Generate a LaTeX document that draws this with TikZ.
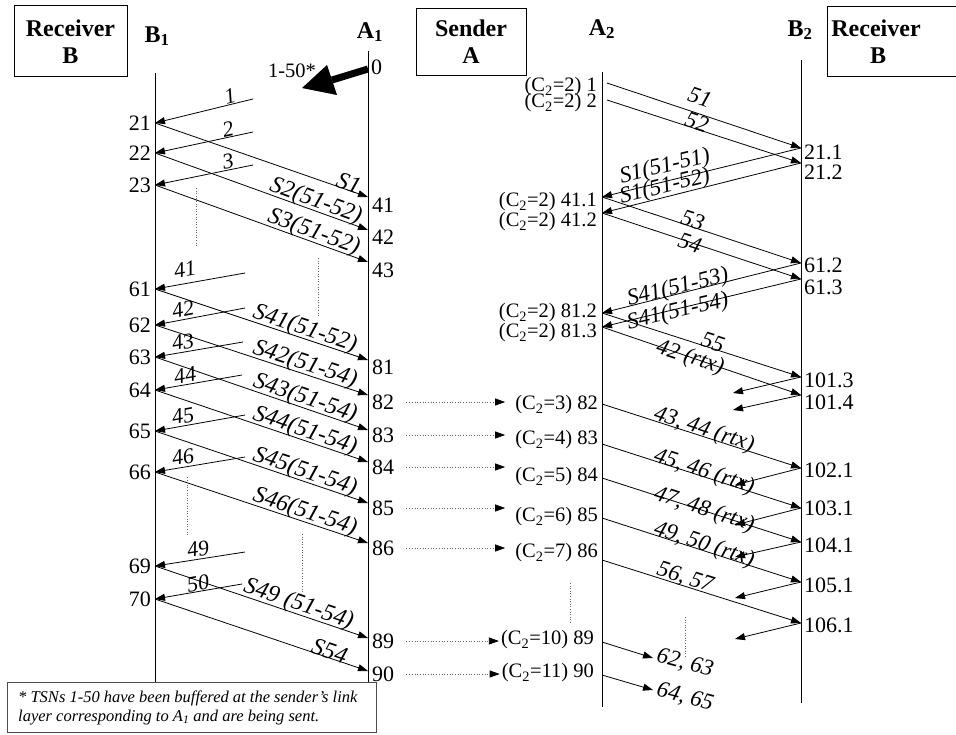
\documentclass[tikz,border=0pt]{standalone}
\usepackage{fontspec}
\setmainfont{Liberation Serif}
\usetikzlibrary{arrows.meta}
\newcommand{\Ct}[1]{(C\textsubscript{2}=#1)}
\tikzset{
  arr/.style={line width=0.8pt, -{Triangle[length=10pt,width=7pt]}},
  num/.style={font=\fontsize{22}{24}\selectfont, inner sep=0pt},
  clbl/.style={font=\fontsize{20.5}{22}\selectfont, inner sep=0pt},
  slbl/.style={font=\fontsize{24}{26}\selectfont\itshape, inner sep=0pt},
  albl/.style={font=\fontsize{23}{25}\selectfont\itshape, inner sep=0pt},
  klbl/.style={font=\fontsize{22}{24}\selectfont\itshape, inner sep=0pt},
  hdr/.style={font=\fontsize{24}{26}\selectfont\bfseries, inner sep=0pt, anchor=base},
  life/.style={line width=0.9pt},
  vdot/.style={dotted, black!60, line width=0.6pt},
  hdot/.style={dotted, black!60, line width=0.7pt, -{Triangle[length=10pt,width=7pt,black]}},
  hbox/.style={draw, line width=0.8pt, inner sep=0pt},
}
\begin{document}
\begin{tikzpicture}[x=1pt,y=-1pt]
\useasboundingbox (0,0) rectangle (956,734);

% header boxes
\node[hbox, minimum width=113pt, minimum height=71pt] (recvL) at (70.5,40.5) {};
\node[hdr] at (70.5,36) {Receiver};
\node[hdr] at (70.5,63) {B};
\node[hbox, minimum width=110pt, minimum height=67pt] (send) at (471,41.5) {};
\node[hdr] at (471,36.5) {Sender};
\node[hdr] at (471,63) {A};
\node[hbox, minimum width=150pt, minimum height=70pt] (recvR) at (902,41) {};
\node[hdr] at (876,36) {Receiver};
\node[hdr] at (878,63) {B};

% lifeline headers
\node[hdr] (hB1) at (157,42) {B\textsubscript{1}};
\node[hdr] (hA1) at (370,38) {A\textsubscript{1}};
\node[hdr] (hA2) at (602,35) {A\textsubscript{2}};
\node[hdr] (hB2) at (800,36) {B\textsubscript{2}};

% lifelines
\coordinate (B1t) at (155,73);  \coordinate (B1b) at (155,682);
\coordinate (A1t) at (368,51);  \coordinate (A1b) at (368,682);
\coordinate (A2t) at (602,72);  \coordinate (A2b) at (602,707);
\coordinate (B2t) at (801,60);  \coordinate (B2b) at (801,703);
\draw[life] (B1t) -- (B1b);
\draw[life] (A1t) -- (A1b);
\draw[life] (A2t) -- (A2b);
\draw[life] (B2t) -- (B2b);

% ---------- left part: events ----------
\foreach \n/\y in {21/123,22/153,23/185,61/289,62/325,63/357,64/390,65/431,66/472,69/566,70/599}{
  \coordinate (b\n) at (155,\y);
  \node[num, anchor=east] (lb\n) at (151,\y) {\n};
}
\foreach \n/\y in {41/197,42/230,43/262,81/360,82/395,83/430,84/462,85/503,86/543,89/638,90/671}{
  \coordinate (a\n) at (368,\y);
}
\foreach \n/\y in {41/205,42/237,43/270,81/367,82/402,83/435,84/467,85/508,86/548,89/641,90/674}{
  \node[num, anchor=west] (la\n) at (372,\y) {\n};
}
\coordinate (a0) at (368,69);
\node[num, anchor=west] (la0) at (371,67) {0};

% thick arrow 1-50*
\node[clbl] (l150) at (292,71) {1-50*};
\coordinate (hb) at (332,80);
\coordinate (ht) at (302,88);
\coordinate (hc1) at (327,65);
\coordinate (hc2) at (337,95);
\draw[line width=7pt] (a0) -- (hb);
\fill (ht) -- (hc1) -- (hc2) -- cycle;

% short arrows towards B1
\foreach \n/\x/\y in {1/253/99,2/253/132,3/253/165,41/245/273,42/245/308,43/243/342,44/242/375,45/245/415,46/245/457,49/245/552,50/242/584}{
  \coordinate (s\n) at (\x,\y);
}
\draw[arr] (s1) -- (b21);   \node[klbl, rotate=14]   at (230,96)  {1};
\draw[arr] (s2) -- (b22);   \node[klbl, rotate=12.3] at (228,129) {2};
\draw[arr] (s3) -- (b23);   \node[klbl, rotate=11.8] at (228,161) {3};
\draw[arr] (s41) -- (b61);  \node[klbl, rotate=9.7]  at (185,269) {41};
\draw[arr] (s42) -- (b62);  \node[klbl, rotate=10.9] at (183,309) {42};
\draw[arr] (s43) -- (b63);  \node[klbl, rotate=10]   at (183,342) {43};
\draw[arr] (s44) -- (b64);  \node[klbl, rotate=10.2] at (185,375) {44};
\draw[arr] (s45) -- (b65);  \node[klbl, rotate=10.3] at (183,416) {45};
\draw[arr] (s46) -- (b66);  \node[klbl, rotate=9.7]  at (183,457) {46};
\draw[arr] (s49) -- (b69);  \node[klbl, rotate=9]    at (198,549) {49};
\draw[arr] (s50) -- (b70);  \node[klbl, rotate=10]   at (198,583) {50};

% long arrows B1 -> A1
\draw[arr] (b21) -- node[slbl, sloped, above=-2pt, pos=0.9]  {S1} (a41);
\draw[arr] (b22) -- node[slbl, sloped, above=-2pt, pos=0.74] {S2(51-52)} (a42);
\draw[arr] (b23) -- node[slbl, sloped, above=-2pt, pos=0.73] {S3(51-52)} (a43);
\draw[arr] (b61) -- node[slbl, sloped, above=-2pt, pos=0.69] {S41(51-52)} (a81);
\draw[arr] (b62) -- node[slbl, sloped, above=-2pt, pos=0.69] {S42(51-54)} (a82);
\draw[arr] (b63) -- node[slbl, sloped, above=-2pt, pos=0.69] {S43(51-54)} (a83);
\draw[arr] (b64) -- node[slbl, sloped, above=-2pt, pos=0.69] {S44(51-54)} (a84);
\draw[arr] (b65) -- node[slbl, sloped, above=-2pt, pos=0.69] {S45(51-54)} (a85);
\draw[arr] (b66) -- node[slbl, sloped, above=-2pt, pos=0.69] {S46(51-54)} (a86);
\draw[arr] (b69) -- node[slbl, sloped, above=-2pt, pos=0.66] {S49 (51-54)} (a89);
\draw[arr] (b70) -- node[slbl, sloped, above=-2pt, pos=0.81] {S54} (a90);

% vertical dotted marks
\draw[vdot] (196,188) -- (196,247);
\draw[vdot] (318,258) -- (318,317);
\draw[vdot] (187,477) -- (187,535);
\draw[vdot] (302,534) -- (302,593);
\draw[vdot] (570,583) -- (570,623);
\draw[vdot] (685,617) -- (685,657);

% ---------- right part ----------
\node[clbl, anchor=east] (lc1)   at (597,87)  {\Ct{2} 1};
\node[clbl, anchor=east] (lc2)   at (597,103) {\Ct{2} 2};
\node[clbl, anchor=east] (lc411) at (597,202) {\Ct{2} 41.1};
\node[clbl, anchor=east] (lc412) at (597,222) {\Ct{2} 41.2};
\node[clbl, anchor=east] (lc812) at (597,313) {\Ct{2} 81.2};
\node[clbl, anchor=east] (lc813) at (597,333) {\Ct{2} 81.3};
\node[clbl, anchor=east] (lc82)  at (598,405) {\Ct{3} 82};
\node[clbl, anchor=east] (lc83)  at (598,440) {\Ct{4} 83};
\node[clbl, anchor=east] (lc84)  at (598,477) {\Ct{5} 84};
\node[clbl, anchor=east] (lc85)  at (598,517) {\Ct{6} 85};
\node[clbl, anchor=east] (lc86)  at (598,553) {\Ct{7} 86};
\node[clbl, anchor=east] (lc89)  at (594,640) {\Ct{10} 89};
\node[clbl, anchor=east] (lc90)  at (594,673) {\Ct{11} 90};

\foreach \n/\y in {21.1/152,21.2/172,61.2/265,61.3/287,101.3/380,101.4/402,102.1/470,103.1/508,104.1/545,105.1/585,106.1/625}{
  \node[num, anchor=west] at (804,\y) {\n};
}

% dotted arrows A1 -> A2
\foreach \n in {82,83,84,85,86}{
  \draw[hdot, shorten <=12pt, shorten >=10pt] (la\n.east) -- (lc\n.west |- la\n.east);
}
\foreach \n in {89,90}{
  \draw[hdot, shorten <=12pt, shorten >=2pt] (la\n.east) -- (lc\n.west |- la\n.east);
}

% event coordinates on A2 / B2
\coordinate (p1) at (607,83);   \coordinate (p2) at (607,100);
\coordinate (p411) at (602,197); \coordinate (p412) at (602,213);
\coordinate (p812) at (602,313); \coordinate (p813) at (602,327);
\coordinate (p82) at (602,404);  \coordinate (p83) at (602,444);
\coordinate (p84) at (602,478);  \coordinate (p85) at (602,518);
\coordinate (p86) at (602,560);  \coordinate (p89) at (602,642);
\coordinate (p90) at (602,675);
\coordinate (q211) at (801,148); \coordinate (q212) at (801,163);
\coordinate (q612) at (801,263); \coordinate (q613) at (801,279);
\coordinate (q1013) at (801,377); \coordinate (q1014) at (801,395);
\coordinate (q1021) at (801,468); \coordinate (q1031) at (801,508);
\coordinate (q1041) at (801,542); \coordinate (q1051) at (801,582);
\coordinate (q1061) at (801,623);
\coordinate (e1013) at (733,393); \coordinate (e1014) at (733,410);
\coordinate (e1021) at (735,485); \coordinate (e1031) at (735,525);
\coordinate (e1041) at (735,557); \coordinate (e1051) at (735,598);
\coordinate (e1061) at (735,639);
\coordinate (e89) at (653,658);  \coordinate (e90) at (653,690);

\draw[arr] (p1) -- (q211);    \node[albl, rotate=-18.7] at (700,97)  {51};
\draw[arr] (p2) -- (q212);    \node[albl, rotate=-18.2] at (697,122) {52};
\draw[arr] (q211) -- (p411);  \node[albl, rotate=13.4]  at (665,167) {S1(51-51)};
\draw[arr] (q212) -- (p412);  \node[albl, rotate=13.7]  at (665,187) {S1(51-52)};
\draw[arr] (p411) -- (q612);  \node[albl, rotate=-18.1] at (693,220) {53};
\draw[arr] (p412) -- (q613);  \node[albl, rotate=-17.8] at (690,243) {54};
\draw[arr] (q612) -- (p812);  \node[albl, rotate=13.7]  at (678,288) {S41(51-53)};
\draw[arr] (q613) -- (p813);  \node[albl, rotate=13.1]  at (678,312) {S41(51-54)};
\draw[arr] (p812) -- (q1013); \node[albl, rotate=-17.8] at (713,342) {55};
\draw[arr] (p813) -- (q1014); \node[albl, rotate=-18.1] at (690,358) {42 (rtx)};
\draw[arr] (q1013) -- (e1013);
\draw[arr] (q1014) -- (e1014);
\draw[arr] (p82) -- (q1021);  \node[albl, rotate=-18.2] at (704,430) {43, 44 (rtx)};
\draw[arr] (q1021) -- (e1021);
\draw[arr] (p83) -- (q1031);  \node[albl, rotate=-18.2] at (704,472) {45, 46 (rtx)};
\draw[arr] (q1031) -- (e1031);
\draw[arr] (p84) -- (q1041);  \node[albl, rotate=-18.2] at (704,510) {47, 48 (rtx)};
\draw[arr] (q1041) -- (e1041);
\draw[arr] (p85) -- (q1051);  \node[albl, rotate=-18.2] at (704,545) {49, 50 (rtx)};
\draw[arr] (q1051) -- (e1051);
\draw[arr] (p86) -- (q1061);  \node[albl, rotate=-17.9] at (685,578) {56, 57};
\draw[arr] (q1061) -- (e1061);
\draw[arr] (p89) -- (e89);    \node[albl, rotate=-15] at (685,663) {62, 63};
\draw[arr] (p90) -- (e90);    \node[albl, rotate=-15] at (685,697) {64, 65};

% footnote
\node[draw=black!70, line width=0.8pt, fill=white, anchor=north west,
      minimum width=369pt, minimum height=50pt, inner sep=0pt] (foot) at (7,682) {};
\node[anchor=base west, inner sep=0pt, font=\fontsize{16.5}{19}\selectfont\itshape]
  (ft1) at (18,702.5) {* TSNs 1-50 have been buffered at the sender’s link};
\node[anchor=base west, inner sep=0pt, font=\fontsize{16.5}{19}\selectfont\itshape]
  (ft2) at (18,721) {layer corresponding to A\textsubscript{1} and are being sent.};
\end{tikzpicture}
\end{document}
